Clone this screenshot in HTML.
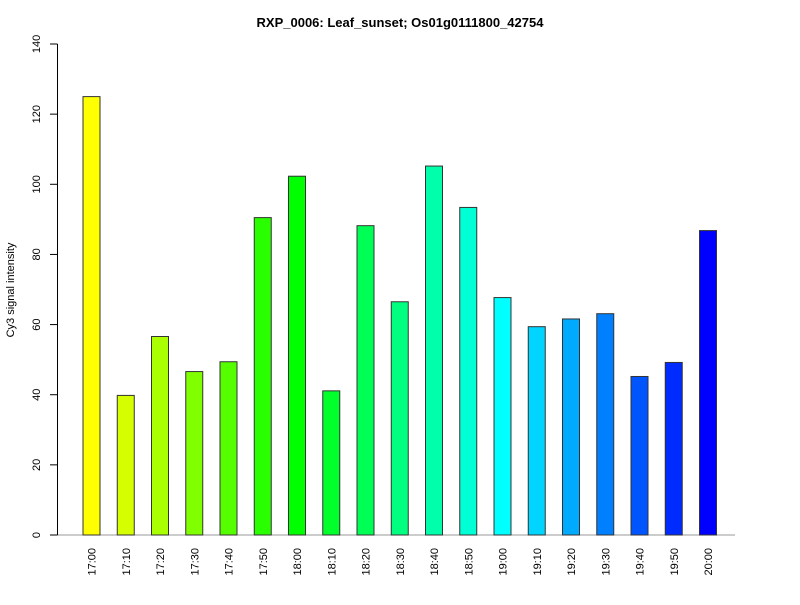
<!DOCTYPE html>
<html><head><meta charset="utf-8"><style>body{margin:0;background:#fff}svg{font-family:"Liberation Sans",sans-serif}</style></head>
<body>
<svg width="800" height="600" id="c">
<text x="400" y="27" text-anchor="middle" font-size="13" font-weight="bold">RXP_0006: Leaf_sunset; Os01g0111800_42754</text>
<text transform="translate(14,290) rotate(-90)" text-anchor="middle" font-size="11">Cy3 signal intensity</text>
<line x1="50" y1="535" x2="735" y2="535" stroke="#999"/>
<line x1="57.5" y1="44" x2="57.5" y2="535" stroke="#000"/>
<g id="bars"></g><g id="yt"></g><g id="xl"></g>
</svg>
<script>
const categories=["17:00","17:10","17:20","17:30","17:40","17:50","18:00","18:10","18:20","18:30","18:40","18:50","19:00","19:10","19:20","19:30","19:40","19:50","20:00"];
const values=[125,39.8,56.6,46.6,49.4,90.5,102.3,41.1,88.2,66.5,105.2,93.4,67.7,59.4,61.6,63.1,45.2,49.2,86.8];
const yTicks=[0,20,40,60,80,100,120,140];
const NS="http://www.w3.org/2000/svg";
const y=v=>535-v*(491/140);
const xc=i=>91.5+i*34.25;
const bars=document.getElementById('bars'),yt=document.getElementById('yt'),xl=document.getElementById('xl');
categories.forEach((c,i)=>{
 const r=document.createElementNS(NS,'rect');
 
 
 r.setAttribute('x',xc(i)-8.5);r.setAttribute('width',17);
 r.setAttribute('y',y(values[i]));r.setAttribute('height',535-y(values[i]));
 r.setAttribute('fill','hsl('+(60+i*10)+',100%,50%)');r.setAttribute('stroke','#333');
 bars.appendChild(r);
 const t=document.createElementNS(NS,'text');
 
 
 t.setAttribute('transform','translate('+(xc(i)+4)+',548) rotate(-90)');
 t.setAttribute('text-anchor','end');t.setAttribute('font-size','11');
 t.textContent=c;xl.appendChild(t);
});
yTicks.forEach(v=>{
 const l=document.createElementNS(NS,'line');
 
 
 l.setAttribute('x1',50);l.setAttribute('x2',57.5);l.setAttribute('y1',y(v));l.setAttribute('y2',y(v));l.setAttribute('stroke','#000');
 yt.appendChild(l);
 const t=document.createElementNS(NS,'text');
 
 
 t.setAttribute('transform','translate(40,'+y(v)+') rotate(-90)');
 t.setAttribute('text-anchor','middle');t.setAttribute('font-size','11');
 t.textContent=v;yt.appendChild(t);
});
</script>
</body></html>
